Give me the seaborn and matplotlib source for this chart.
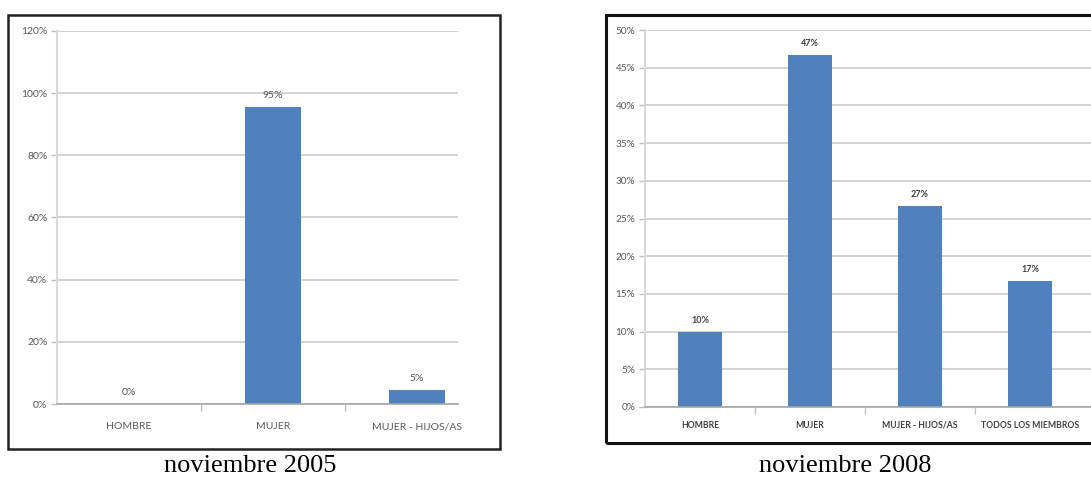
import matplotlib
matplotlib.use("Agg")
import matplotlib.pyplot as plt
from matplotlib.patches import Rectangle
from matplotlib.ticker import FixedLocator
import seaborn as sns
import pandas as pd

# Responsables del hogar, por año
categorias_2005 = ["HOMBRE", "MUJER", "MUJER - HIJOS/AS"]
valores_2005 = [0.0, 21 / 22, 1 / 22]

categorias_2008 = ["HOMBRE", "MUJER", "MUJER - HIJOS/AS", "TODOS LOS MIEMBROS"]
valores_2008 = [3 / 30, 14 / 30, 8 / 30, 5 / 30]

yticks_2005 = [0.0, 0.2, 0.4, 0.6, 0.8, 1.0, 1.2]
yticks_2008 = [0.0, 0.05, 0.10, 0.15, 0.20, 0.25, 0.30, 0.35, 0.40, 0.45, 0.50]

titulo_2005 = "noviembre 2005"
titulo_2008 = "noviembre 2008"

BLUE = "#4F81BD"
W, H = 1091, 478

sns.set_theme(style="white")
plt.rcParams["font.family"] = ["Lato", "DejaVu Sans"]

fig = plt.figure(figsize=(W / 100, H / 100), dpi=100)
fig.patch.set_facecolor("white")


def fx(px):
    return px / W


def fy(py):
    return 1 - py / H


def draw_panel(ax, cats, vals, yticks, width, xmax, *,
               xcolor, xweight, xfs, ycolor, yfs,
               lcolor, lweight, lfs, xpad):
    df = pd.DataFrame({"cat": cats, "val": vals})
    sns.barplot(data=df, x="cat", y="val", ax=ax, color=BLUE,
                saturation=1, width=width, edgecolor="none")
    ax.set_xlim(-0.5, xmax)
    ax.set_ylim(yticks[0], yticks[-1])
    ax.set_xlabel("")
    ax.set_ylabel("")
    ax.set_yticks(yticks)
    ax.set_yticklabels([f"{t * 100:.0f}%" for t in yticks],
                       fontsize=yfs, color=ycolor)
    ax.set_xticks(range(len(cats)))
    ax.set_xticklabels(cats, fontsize=xfs, color=xcolor, fontweight=xweight)
    ax.xaxis.set_minor_locator(FixedLocator([i + 0.5 for i in range(len(cats) - 1)]))
    ax.tick_params(axis="x", which="major", length=0, pad=xpad)
    ax.tick_params(axis="x", which="minor", length=5, width=1,
                   color="#bfbfbf", direction="out", bottom=True)
    ax.tick_params(axis="y", length=4, width=1, color="#bfbfbf",
                   direction="out", pad=3, left=True)
    ax.yaxis.grid(True, color="#cfcfcf", linewidth=1.3)
    ax.set_axisbelow(True)
    for s in ("top", "right"):
        ax.spines[s].set_visible(False)
    ax.spines["left"].set_color("#d9d9d9")
    ax.spines["left"].set_linewidth(1.5)
    ax.spines["bottom"].set_color("#a6a6a6")
    ax.spines["bottom"].set_linewidth(1.2)
    ax.bar_label(ax.containers[0], labels=[f"{v * 100:.0f}%" for v in vals],
                 padding=5, fontsize=lfs, color=lcolor, fontweight=lweight)


# Panel 2005
ax1 = fig.add_axes([fx(57), fy(404), fx(458 - 57), (404 - 31) / H])
draw_panel(ax1, categorias_2005, valores_2005, yticks_2005, 0.39,
           (458 - 57) / 144 - 0.5,
           xcolor="#595959", xweight="normal", xfs=7.5,
           ycolor="#595959", yfs=7.5,
           lcolor="#595959", lweight="normal", lfs=7.5, xpad=13)

# Panel 2008
ax2 = fig.add_axes([fx(645), fy(407), fx(W - 645), (407 - 30) / H])
draw_panel(ax2, categorias_2008, valores_2008, yticks_2008, 0.4,
           (W - 645) / 110 - 0.5,
           xcolor="#404040", xweight="bold", xfs=6.2,
           ycolor="#595959", yfs=7.2,
           lcolor="#404040", lweight="bold", lfs=6.5, xpad=10)

# Chart frames
fig.patches.append(Rectangle((fx(8), fy(449)), fx(500 - 8), (449 - 15) / H,
                             transform=fig.transFigure, fill=False,
                             edgecolor="#222222", linewidth=1.8))
fig.patches.append(Rectangle((fx(606), fy(443)), fx(1120 - 606), (443 - 15) / H,
                             transform=fig.transFigure, fill=False,
                             edgecolor="#111111", linewidth=2.2,
                             clip_on=False))

# Captions
fig.text(fx(250), fy(466), titulo_2005, ha="center", va="center",
         fontsize=19, family="Liberation Serif", color="black")
fig.text(fx(845), fy(466), titulo_2008, ha="center", va="center",
         fontsize=19, family="Liberation Serif", color="black")

fig.savefig("out.png", dpi=100, facecolor="white")
